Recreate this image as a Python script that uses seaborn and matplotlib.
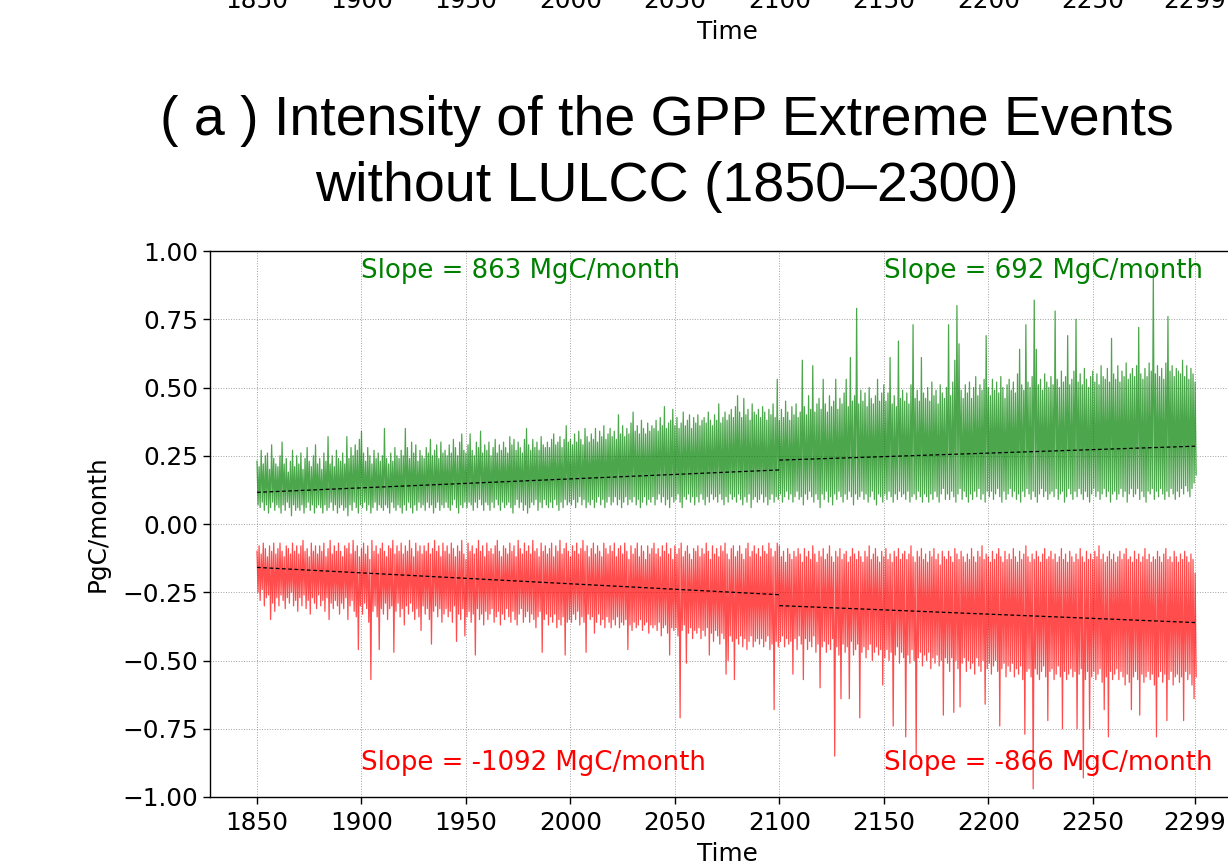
import numpy as np
import pandas as pd
import matplotlib
matplotlib.use("Agg")
import matplotlib.pyplot as plt
import seaborn as sns

# ---------------- data ----------------
years = list(range(1850, 2300))

# yearly upper envelope of the positive (green) extremes, PgC/month
green_hi = [
    0.23, 0.21, 0.27, 0.22, 0.25, 0.26, 0.20, 0.29, 0.24, 0.22,
    0.21, 0.25, 0.30, 0.22, 0.24, 0.19, 0.23, 0.27, 0.21, 0.25,
    0.22, 0.26, 0.20, 0.24, 0.28, 0.23, 0.21, 0.25, 0.29, 0.22,
    0.24, 0.20, 0.26, 0.23, 0.32, 0.22, 0.25, 0.21, 0.27, 0.24,
    0.23, 0.26, 0.22, 0.32, 0.24, 0.28, 0.25, 0.29, 0.27, 0.31,
    0.34, 0.26, 0.23, 0.28, 0.25, 0.22, 0.27, 0.24, 0.26, 0.23,
    0.25, 0.35, 0.24, 0.22, 0.26, 0.23, 0.28, 0.25, 0.24, 0.27,
    0.25, 0.35, 0.28, 0.24, 0.30, 0.26, 0.29, 0.23, 0.27, 0.25,
    0.24, 0.28, 0.26, 0.31, 0.25, 0.27, 0.29, 0.24, 0.30, 0.26,
    0.27, 0.25, 0.29, 0.26, 0.31, 0.28, 0.25, 0.30, 0.33, 0.27,
    0.26, 0.29, 0.33, 0.27, 0.25, 0.30, 0.28, 0.34, 0.26, 0.29,
    0.27, 0.30, 0.25, 0.28, 0.31, 0.26, 0.29, 0.27, 0.30, 0.28,
    0.26, 0.32, 0.29, 0.31, 0.27, 0.30, 0.28, 0.26, 0.31, 0.35,
    0.29, 0.27, 0.31, 0.28, 0.30, 0.27, 0.32, 0.29, 0.28, 0.30,
    0.28, 0.31, 0.33, 0.29, 0.30, 0.32, 0.28, 0.31, 0.36, 0.30,
    0.31, 0.29, 0.33, 0.30, 0.34, 0.31, 0.29, 0.35, 0.32, 0.30,
    0.33, 0.31, 0.35, 0.30, 0.34, 0.32, 0.36, 0.31, 0.33, 0.35,
    0.32, 0.34, 0.31, 0.40, 0.33, 0.36, 0.32, 0.35, 0.33, 0.37,
    0.41, 0.34, 0.36, 0.33, 0.38, 0.35, 0.33, 0.37, 0.34, 0.36,
    0.35, 0.38, 0.34, 0.39, 0.36, 0.43, 0.35, 0.37, 0.38, 0.42,
    0.36, 0.39, 0.35, 0.37, 0.41, 0.36, 0.38, 0.40, 0.35, 0.39,
    0.37, 0.40, 0.36, 0.38, 0.39, 0.37, 0.41, 0.38, 0.36, 0.40,
    0.38, 0.44, 0.37, 0.39, 0.41, 0.38, 0.40, 0.42, 0.39, 0.43,
    0.47, 0.41, 0.39, 0.46, 0.40, 0.42, 0.38, 0.44, 0.41, 0.40,
    0.42, 0.39, 0.43, 0.41, 0.38, 0.42, 0.40, 0.44, 0.39, 0.53,
    0.38, 0.42, 0.39, 0.45, 0.41, 0.38, 0.43, 0.40, 0.44, 0.39,
    0.41, 0.60, 0.43, 0.40, 0.47, 0.42, 0.58, 0.41, 0.44, 0.46,
    0.42, 0.53, 0.44, 0.41, 0.47, 0.43, 0.45, 0.53, 0.42, 0.46,
    0.44, 0.48, 0.53, 0.43, 0.61, 0.45, 0.47, 0.79, 0.44, 0.49,
    0.45, 0.48, 0.43, 0.50, 0.46, 0.44, 0.47, 0.53, 0.45, 0.48,
    0.51, 0.45, 0.48, 0.61, 0.44, 0.47, 0.43, 0.67, 0.46, 0.49,
    0.45, 0.48, 0.44, 0.51, 0.73, 0.46, 0.49, 0.45, 0.61, 0.48,
    0.46, 0.50, 0.45, 0.52, 0.47, 0.49, 0.44, 0.51, 0.48, 0.46,
    0.50, 0.73, 0.47, 0.52, 0.60, 0.80, 0.66, 0.49, 0.46, 0.51,
    0.48, 0.52, 0.46, 0.50, 0.54, 0.47, 0.51, 0.49, 0.53, 0.69,
    0.50, 0.47, 0.53, 0.49, 0.52, 0.48, 0.54, 0.50, 0.46, 0.51,
    0.53, 0.49, 0.52, 0.48, 0.55, 0.64, 0.51, 0.49, 0.73, 0.52,
    0.50, 0.54, 0.82, 0.64, 0.51, 0.53, 0.49, 0.55, 0.52, 0.50,
    0.54, 0.51, 0.78, 0.53, 0.50, 0.56, 0.52, 0.54, 0.69, 0.51,
    0.53, 0.56, 0.75, 0.52, 0.55, 0.51, 0.57, 0.53, 0.50, 0.54,
    0.56, 0.52, 0.55, 0.51, 0.58, 0.54, 0.53, 0.57, 0.52, 0.68,
    0.55, 0.53, 0.58, 0.52, 0.56, 0.54, 0.59, 0.53, 0.55, 0.57,
    0.54, 0.58, 0.72, 0.55, 0.53, 0.57, 0.54, 0.59, 0.56, 0.93,
    0.55, 0.58, 0.54, 0.57, 0.53, 0.59, 0.76, 0.56, 0.58, 0.54,
    0.57, 0.56, 0.55, 0.60, 0.54, 0.58, 0.53, 0.57, 0.55, 0.52,
]

# yearly lower envelope of the positive (green) extremes
green_lo = [
    0.07, 0.06, 0.08, 0.05, 0.07, 0.04, 0.06, 0.08, 0.05, 0.07,
    0.06, 0.04, 0.07, 0.05, 0.08, 0.06, 0.03, 0.07, 0.05, 0.06,
    0.05, 0.07, 0.04, 0.06, 0.08, 0.05, 0.07, 0.04, 0.06, 0.07,
    0.06, 0.04, 0.07, 0.05, 0.06, 0.08, 0.05, 0.07, 0.04, 0.06,
    0.07, 0.05, 0.06, 0.03, 0.07, 0.05, 0.08, 0.06, 0.04, 0.07,
    0.06, 0.08, 0.05, 0.07, 0.04, 0.06, 0.08, 0.05, 0.07, 0.06,
    0.05, 0.07, 0.06, 0.04, 0.08, 0.06, 0.05, 0.07, 0.06, 0.04,
    0.07, 0.05, 0.08, 0.06, 0.04, 0.07, 0.05, 0.08, 0.06, 0.07,
    0.05, 0.08, 0.06, 0.07, 0.04, 0.06, 0.08, 0.05, 0.07, 0.06,
    0.08, 0.06, 0.05, 0.07, 0.09, 0.06, 0.04, 0.07, 0.06, 0.08,
    0.06, 0.08, 0.07, 0.05, 0.08, 0.06, 0.09, 0.07, 0.05, 0.08,
    0.07, 0.05, 0.08, 0.06, 0.09, 0.07, 0.05, 0.08, 0.06, 0.07,
    0.08, 0.06, 0.04, 0.07, 0.09, 0.06, 0.08, 0.05, 0.07, 0.04,
    0.06, 0.08, 0.07, 0.09, 0.05, 0.08, 0.06, 0.09, 0.07, 0.06,
    0.08, 0.06, 0.09, 0.07, 0.05, 0.08, 0.06, 0.09, 0.07, 0.08,
    0.07, 0.09, 0.06, 0.08, 0.10, 0.07, 0.09, 0.06, 0.08, 0.07,
    0.09, 0.06, 0.08, 0.10, 0.07, 0.09, 0.06, 0.08, 0.10, 0.07,
    0.08, 0.10, 0.07, 0.09, 0.06, 0.08, 0.10, 0.07, 0.09, 0.08,
    0.10, 0.07, 0.09, 0.06, 0.08, 0.10, 0.07, 0.09, 0.08, 0.10,
    0.07, 0.09, 0.11, 0.08, 0.10, 0.07, 0.09, 0.06, 0.10, 0.08,
    0.09, 0.11, 0.08, 0.06, 0.10, 0.09, 0.11, 0.08, 0.10, 0.07,
    0.10, 0.08, 0.11, 0.09, 0.07, 0.10, 0.08, 0.11, 0.09, 0.10,
    0.08, 0.11, 0.09, 0.07, 0.10, 0.08, 0.11, 0.09, 0.10, 0.08,
    0.11, 0.09, 0.07, 0.10, 0.08, 0.11, 0.06, 0.09, 0.10, 0.08,
    0.09, 0.11, 0.08, 0.10, 0.07, 0.09, 0.11, 0.08, 0.10, 0.09,
    0.11, 0.08, 0.10, 0.12, 0.09, 0.11, 0.08, 0.10, 0.12, 0.09,
    0.10, 0.07, 0.11, 0.09, 0.12, 0.10, 0.08, 0.11, 0.09, 0.06,
    0.11, 0.09, 0.12, 0.08, 0.10, 0.07, 0.11, 0.09, 0.12, 0.10,
    0.08, 0.11, 0.09, 0.12, 0.10, 0.07, 0.11, 0.09, 0.10, 0.12,
    0.09, 0.11, 0.08, 0.10, 0.12, 0.09, 0.07, 0.11, 0.10, 0.08,
    0.11, 0.09, 0.12, 0.10, 0.08, 0.11, 0.09, 0.12, 0.10, 0.11,
    0.09, 0.12, 0.08, 0.10, 0.11, 0.09, 0.12, 0.10, 0.08, 0.11,
    0.10, 0.08, 0.11, 0.09, 0.12, 0.10, 0.08, 0.11, 0.13, 0.09,
    0.11, 0.09, 0.12, 0.10, 0.08, 0.11, 0.13, 0.09, 0.12, 0.10,
    0.08, 0.11, 0.09, 0.12, 0.10, 0.13, 0.09, 0.11, 0.08, 0.12,
    0.10, 0.12, 0.09, 0.11, 0.13, 0.10, 0.08, 0.12, 0.09, 0.11,
    0.13, 0.10, 0.12, 0.09, 0.11, 0.08, 0.12, 0.10, 0.13, 0.11,
    0.09, 0.12, 0.10, 0.08, 0.11, 0.13, 0.10, 0.12, 0.09, 0.11,
    0.12, 0.10, 0.13, 0.09, 0.11, 0.12, 0.08, 0.10, 0.13, 0.11,
    0.09, 0.12, 0.10, 0.13, 0.11, 0.09, 0.12, 0.10, 0.08, 0.11,
    0.13, 0.10, 0.12, 0.09, 0.11, 0.13, 0.10, 0.12, 0.08, 0.11,
    0.12, 0.09, 0.11, 0.13, 0.10, 0.12, 0.08, 0.11, 0.13, 0.10,
    0.11, 0.13, 0.09, 0.12, 0.10, 0.08, 0.12, 0.11, 0.13, 0.09,
    0.12, 0.10, 0.13, 0.11, 0.09, 0.12, 0.10, 0.13, 0.11, 0.09,
    0.12, 0.10, 0.13, 0.11, 0.14, 0.12, 0.10, 0.13, 0.15, 0.18,
]

# yearly upper envelope (closest to zero) of the negative (red) extremes
red_hi = [
    -0.10, -0.08, -0.11, -0.07, -0.09, -0.12, -0.08, -0.10, -0.07, -0.11,
    -0.09, -0.07, -0.10, -0.12, -0.08, -0.09, -0.11, -0.07, -0.10, -0.08,
    -0.11, -0.08, -0.06, -0.10, -0.09, -0.12, -0.07, -0.10, -0.08, -0.11,
    -0.08, -0.10, -0.07, -0.12, -0.09, -0.06, -0.11, -0.08, -0.10, -0.07,
    -0.10, -0.12, -0.08, -0.09, -0.07, -0.11, -0.06, -0.10, -0.08, -0.12,
    -0.09, -0.07, -0.11, -0.08, -0.13, -0.06, -0.10, -0.08, -0.11, -0.09,
    -0.07, -0.10, -0.12, -0.08, -0.09, -0.06, -0.11, -0.08, -0.10, -0.07,
    -0.11, -0.08, -0.10, -0.06, -0.09, -0.12, -0.07, -0.10, -0.08, -0.11,
    -0.08, -0.10, -0.07, -0.11, -0.09, -0.06, -0.10, -0.08, -0.12, -0.07,
    -0.10, -0.08, -0.11, -0.07, -0.09, -0.12, -0.08, -0.10, -0.06, -0.11,
    -0.13, -0.07, -0.10, -0.08, -0.11, -0.09, -0.06, -0.10, -0.08, -0.12,
    -0.07, -0.10, -0.09, -0.11, -0.08, -0.06, -0.10, -0.12, -0.08, -0.09,
    -0.11, -0.07, -0.10, -0.08, -0.12, -0.06, -0.09, -0.11, -0.07, -0.10,
    -0.08, -0.11, -0.06, -0.10, -0.09, -0.12, -0.07, -0.10, -0.08, -0.11,
    -0.09, -0.07, -0.12, -0.08, -0.10, -0.06, -0.11, -0.09, -0.07, -0.10,
    -0.12, -0.08, -0.10, -0.07, -0.11, -0.09, -0.06, -0.10, -0.08, -0.12,
    -0.09, -0.07, -0.11, -0.08, -0.10, -0.12, -0.07, -0.09, -0.11, -0.08,
    -0.10, -0.07, -0.12, -0.09, -0.08, -0.11, -0.07, -0.10, -0.13, -0.08,
    -0.11, -0.09, -0.07, -0.12, -0.08, -0.10, -0.13, -0.08, -0.11, -0.09,
    -0.07, -0.11, -0.09, -0.12, -0.08, -0.10, -0.07, -0.11, -0.09, -0.13,
    -0.08, -0.11, -0.09, -0.07, -0.12, -0.10, -0.08, -0.11, -0.13, -0.09,
    -0.10, -0.08, -0.12, -0.09, -0.11, -0.07, -0.10, -0.13, -0.08, -0.11,
    -0.09, -0.12, -0.08, -0.10, -0.07, -0.11, -0.13, -0.09, -0.08, -0.12,
    -0.10, -0.08, -0.11, -0.13, -0.09, -0.07, -0.12, -0.10, -0.08, -0.11,
    -0.09, -0.12, -0.08, -0.10, -0.11, -0.07, -0.09, -0.12, -0.10, -0.07,
    -0.08, -0.12, -0.10, -0.14, -0.09, -0.11, -0.13, -0.10, -0.12, -0.09,
    -0.11, -0.14, -0.09, -0.12, -0.10, -0.13, -0.08, -0.11, -0.14, -0.10,
    -0.12, -0.09, -0.13, -0.11, -0.08, -0.12, -0.14, -0.10, -0.12, -0.09,
    -0.13, -0.11, -0.10, -0.14, -0.12, -0.09, -0.11, -0.13, -0.10, -0.12,
    -0.14, -0.10, -0.12, -0.08, -0.13, -0.11, -0.09, -0.12, -0.14, -0.10,
    -0.12, -0.09, -0.13, -0.11, -0.14, -0.10, -0.12, -0.09, -0.13, -0.11,
    -0.10, -0.13, -0.11, -0.08, -0.12, -0.14, -0.10, -0.12, -0.09, -0.13,
    -0.11, -0.14, -0.10, -0.12, -0.09, -0.13, -0.11, -0.15, -0.10, -0.12,
    -0.13, -0.10, -0.12, -0.14, -0.09, -0.11, -0.13, -0.10, -0.12, -0.14,
    -0.11, -0.13, -0.09, -0.12, -0.14, -0.10, -0.12, -0.08, -0.13, -0.11,
    -0.12, -0.14, -0.10, -0.13, -0.11, -0.09, -0.12, -0.14, -0.10, -0.13,
    -0.11, -0.13, -0.09, -0.12, -0.14, -0.10, -0.13, -0.11, -0.08, -0.12,
    -0.14, -0.11, -0.13, -0.10, -0.12, -0.14, -0.11, -0.09, -0.13, -0.12,
    -0.10, -0.13, -0.11, -0.14, -0.12, -0.09, -0.13, -0.11, -0.14, -0.10,
    -0.12, -0.14, -0.11, -0.13, -0.09, -0.12, -0.14, -0.10, -0.13, -0.11,
    -0.13, -0.10, -0.12, -0.08, -0.13, -0.11, -0.14, -0.12, -0.10, -0.13,
    -0.11, -0.14, -0.12, -0.10, -0.13, -0.11, -0.09, -0.13, -0.12, -0.14,
    -0.10, -0.13, -0.11, -0.14, -0.12, -0.09, -0.13, -0.11, -0.14, -0.12,
    -0.13, -0.10, -0.12, -0.14, -0.11, -0.09, -0.13, -0.12, -0.14, -0.10,
    -0.12, -0.14, -0.11, -0.13, -0.10, -0.12, -0.14, -0.11, -0.13, -0.18,
]

# yearly lower envelope (most negative) of the negative (red) extremes
red_lo = [
    -0.25, -0.28, -0.24, -0.30, -0.27, -0.26, -0.35, -0.29, -0.32, -0.27,
    -0.30, -0.26, -0.28, -0.31, -0.27, -0.29, -0.25, -0.30, -0.28, -0.32,
    -0.27, -0.30, -0.26, -0.31, -0.28, -0.33, -0.27, -0.29, -0.31, -0.26,
    -0.30, -0.28, -0.32, -0.27, -0.35, -0.29, -0.31, -0.28, -0.30, -0.33,
    -0.29, -0.31, -0.27, -0.35, -0.30, -0.28, -0.32, -0.34, -0.46, -0.30,
    -0.33, -0.29, -0.31, -0.36, -0.57, -0.32, -0.30, -0.34, -0.46, -0.31,
    -0.33, -0.29, -0.35, -0.31, -0.30, -0.47, -0.32, -0.29, -0.34, -0.31,
    -0.37, -0.30, -0.33, -0.29, -0.32, -0.35, -0.31, -0.34, -0.39, -0.30,
    -0.33, -0.31, -0.35, -0.44, -0.32, -0.30, -0.34, -0.31, -0.36, -0.33,
    -0.31, -0.34, -0.32, -0.36, -0.30, -0.43, -0.33, -0.35, -0.31, -0.41,
    -0.34, -0.32, -0.36, -0.33, -0.48, -0.31, -0.35, -0.33, -0.37, -0.32,
    -0.35, -0.33, -0.31, -0.36, -0.34, -0.32, -0.37, -0.33, -0.35, -0.31,
    -0.34, -0.36, -0.32, -0.35, -0.37, -0.33, -0.31, -0.36, -0.34, -0.32,
    -0.36, -0.33, -0.35, -0.38, -0.34, -0.32, -0.47, -0.35, -0.33, -0.37,
    -0.34, -0.36, -0.33, -0.38, -0.35, -0.37, -0.34, -0.48, -0.36, -0.35,
    -0.36, -0.33, -0.35, -0.32, -0.37, -0.34, -0.36, -0.47, -0.33, -0.35,
    -0.34, -0.40, -0.36, -0.33, -0.37, -0.35, -0.38, -0.34, -0.36, -0.38,
    -0.35, -0.37, -0.34, -0.38, -0.36, -0.37, -0.35, -0.46, -0.37, -0.39,
    -0.36, -0.38, -0.37, -0.35, -0.39, -0.37, -0.36, -0.40, -0.37, -0.38,
    -0.37, -0.39, -0.36, -0.41, -0.38, -0.37, -0.40, -0.48, -0.38, -0.39,
    -0.38, -0.41, -0.71, -0.39, -0.37, -0.51, -0.40, -0.38, -0.42, -0.39,
    -0.40, -0.38, -0.42, -0.39, -0.41, -0.38, -0.48, -0.40, -0.43, -0.39,
    -0.41, -0.44, -0.40, -0.42, -0.55, -0.50, -0.41, -0.43, -0.57, -0.42,
    -0.44, -0.41, -0.45, -0.42, -0.46, -0.43, -0.41, -0.45, -0.43, -0.42,
    -0.44, -0.42, -0.45, -0.43, -0.41, -0.46, -0.44, -0.68, -0.43, -0.45,
    -0.43, -0.41, -0.45, -0.42, -0.44, -0.43, -0.55, -0.42, -0.46, -0.41,
    -0.44, -0.57, -0.42, -0.46, -0.43, -0.45, -0.41, -0.47, -0.44, -0.60,
    -0.45, -0.43, -0.47, -0.44, -0.46, -0.42, -0.85, -0.45, -0.48, -0.64,
    -0.44, -0.47, -0.45, -0.64, -0.43, -0.48, -0.46, -0.44, -0.71, -0.47,
    -0.45, -0.49, -0.46, -0.44, -0.50, -0.47, -0.45, -0.48, -0.46, -0.59,
    -0.49, -0.46, -0.50, -0.47, -0.74, -0.48, -0.45, -0.51, -0.47, -0.49,
    -0.78, -0.48, -0.51, -0.46, -0.50, -0.85, -0.49, -0.47, -0.52, -0.48,
    -0.50, -0.47, -0.53, -0.49, -0.51, -0.48, -0.52, -0.50, -0.70, -0.49,
    -0.51, -0.54, -0.49, -0.69, -0.50, -0.53, -0.67, -0.51, -0.49, -0.54,
    -0.50, -0.53, -0.51, -0.55, -0.49, -0.52, -0.54, -0.50, -0.66, -0.53,
    -0.51, -0.55, -0.52, -0.50, -0.54, -0.74, -0.53, -0.51, -0.56, -0.52,
    -0.54, -0.51, -0.56, -0.53, -0.55, -0.52, -0.57, -0.77, -0.54, -0.53,
    -0.56, -0.97, -0.53, -0.55, -0.57, -0.54, -0.52, -0.56, -0.72, -0.54,
    -0.53, -0.57, -0.55, -0.52, -0.56, -0.75, -0.54, -0.57, -0.55, -0.53,
    -0.56, -0.54, -0.75, -0.55, -0.53, -0.93, -0.57, -0.54, -0.75, -0.56,
    -0.54, -0.57, -0.55, -0.53, -0.58, -0.68, -0.56, -0.78, -0.54, -0.57,
    -0.55, -0.53, -0.57, -0.54, -0.56, -0.59, -0.55, -0.58, -0.68, -0.56,
    -0.54, -0.57, -0.70, -0.55, -0.58, -0.56, -0.54, -0.57, -0.55, -0.59,
    -0.78, -0.56, -0.54, -0.58, -0.55, -0.72, -0.57, -0.54, -0.59, -0.56,
    -0.55, -0.58, -0.56, -0.72, -0.54, -0.57, -0.55, -0.59, -0.64, -0.56,
]

# linear trends (start / end values), split at 2100
trend_years_1 = [1850, 2100]
trend_years_2 = [2100, 2299]
green_trend_1 = [0.116, 0.198]
green_trend_2 = [0.234, 0.285]
red_trend_1 = [-0.159, -0.259]
red_trend_2 = [-0.299, -0.361]

slope_labels_green = ["Slope = 863 MgC/month", "Slope = 692 MgC/month"]
slope_labels_red = ["Slope = -1092 MgC/month", "Slope = -866 MgC/month"]
slope_label_years = [1900, 2150]

title_lines = ["( a ) Intensity of the GPP Extreme Events",
               "without LULCC (1850\u20132300)"]

xtick_years = [1850, 1900, 1950, 2000, 2050, 2100, 2150, 2200, 2250, 2299]
ytick_vals = [-1.0, -0.75, -0.5, -0.25, 0.0, 0.25, 0.5, 0.75, 1.0]

# ---------------- figure ----------------
plt.rcParams["font.family"] = ["DejaVu Sans"]
plt.rcParams["path.simplify"] = False
W, H = 1228, 867
fig = plt.figure(figsize=(W / 100, H / 100), dpi=100)

left = 210 / W
bottom = (H - 797) / H
height = (797 - 251) / H
width = (1244 - 210) / W
ax = fig.add_axes([left, bottom, width, height])

# interleave yearly high/low values to draw the dense band
yrs = np.array(years, dtype=float)
xx = np.ravel(np.column_stack([yrs, yrs + 0.5]))
gg = np.ravel(np.column_stack([green_hi, green_lo]))
rr = np.ravel(np.column_stack([red_hi, red_lo]))
df = pd.DataFrame({"time": xx, "pos": gg, "neg": rr})

sns.lineplot(data=df, x="time", y="pos", ax=ax, color="green", alpha=0.7,
             lw=0.9, estimator=None, sort=False)
sns.lineplot(data=df, x="time", y="neg", ax=ax, color="red", alpha=0.7,
             lw=0.9, estimator=None, sort=False)

for ty, gt, rt in [(trend_years_1, green_trend_1, red_trend_1),
                   (trend_years_2, green_trend_2, red_trend_2)]:
    ax.plot(ty, gt, color="black", lw=0.9, ls=(0, (3, 2)))
    ax.plot(ty, rt, color="black", lw=0.9, ls=(0, (3, 2)))

for xl, lab in zip(slope_label_years, slope_labels_green):
    ax.text(xl, 0.9, lab, color="green", fontsize=18.7)
for xl, lab in zip(slope_label_years, slope_labels_red):
    ax.text(xl, -0.9, lab, color="red", fontsize=18.7)

ax.set_xlim(1827.5, 2322.4)
ax.set_ylim(-1.0, 1.0)
ax.set_xticks(xtick_years)
ax.set_xticklabels([str(v) for v in xtick_years])
ax.set_yticks(ytick_vals)
ax.set_yticklabels([f"{v:.2f}".replace("-", "\u2212") for v in ytick_vals])
ax.tick_params(labelsize=17.8, length=5, width=1)
ax.tick_params(axis="x", pad=5)
ax.grid(True, ls=":", lw=0.7, color="#a0a0a0")
ax.set_xlabel("Time", fontsize=17.8, labelpad=5)
ax.set_ylabel("PgC/month", fontsize=17.8, labelpad=9)
for s in ax.spines.values():
    s.set_linewidth(1.0)

# bottom of the panel above (only its x labels are visible)
ax_top = fig.add_axes([left, (H + 25) / H, width, height])
ax_top.set_xlim(1827.5, 2322.4)
ax_top.set_xticks(xtick_years)
ax_top.set_xticklabels([str(v) for v in xtick_years])
ax_top.set_yticks([])
ax_top.tick_params(labelsize=17.8, length=5, width=1)
ax_top.tick_params(axis="x", pad=5)
ax_top.set_xlabel("Time", fontsize=17.8, labelpad=5)

title_family = ["Liberation Sans Narrow", "Liberation Sans", "DejaVu Sans"]
fig.text(667 / W, 1 - 135 / H, title_lines[0], ha="center", va="baseline",
         fontsize=40, family=title_family)
fig.text(667 / W, 1 - 201 / H, title_lines[1], ha="center", va="baseline",
         fontsize=40, family=title_family)

fig.savefig("out.png", dpi=100)
